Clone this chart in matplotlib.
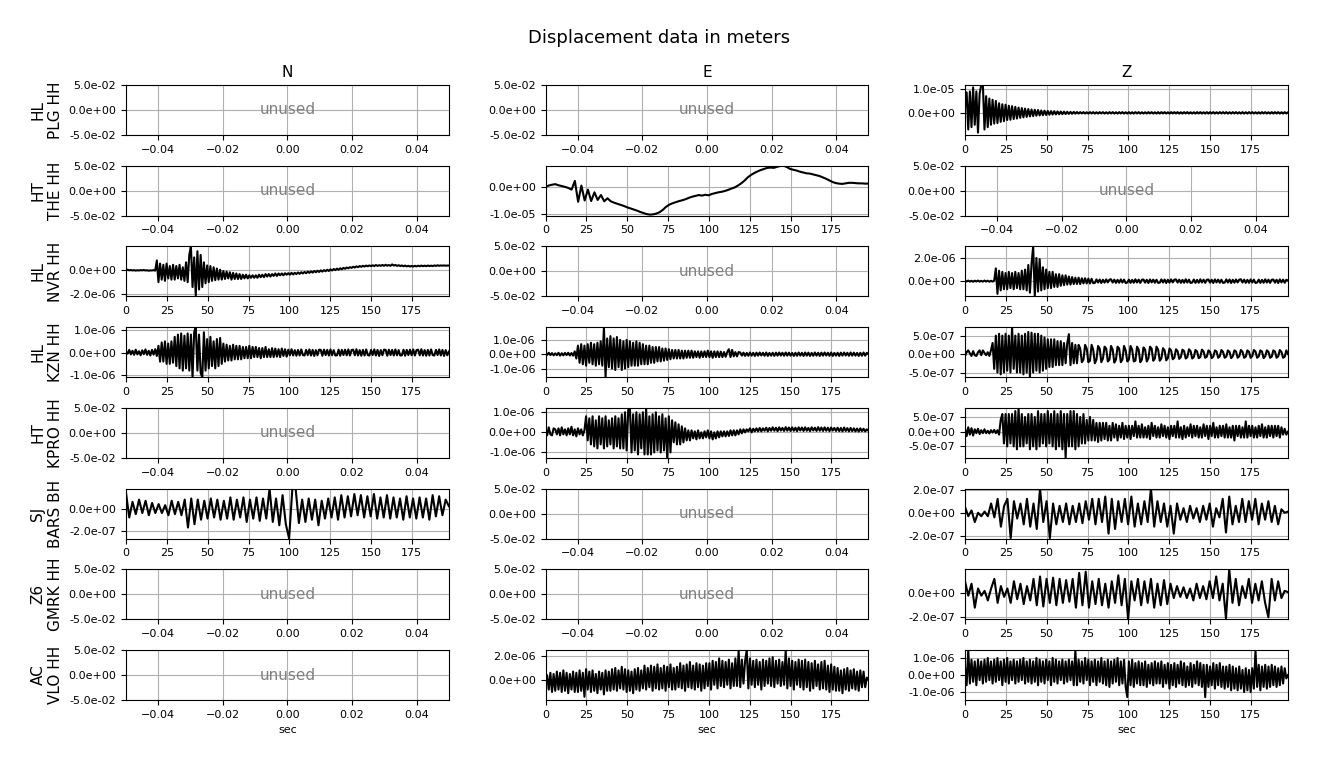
import numpy as np
import matplotlib
matplotlib.use('Agg')
import matplotlib.pyplot as plt
from matplotlib.ticker import FormatStrFormatter

# Station labels (network / station + channel prefix) and components
STATIONS = ['HL\nPLG HH', 'HT\nTHE HH', 'HL\nNVR HH', 'HL\nKZN HH',
            'HT\nKPRO HH', 'SJ\nBARS BH', 'Z6\nGMRK HH', 'AC\nVLO HH']
COMPONENTS = ['N', 'E', 'Z']
DURATION = 197.7  # sec

# Displacement traces, coarse samples
# (noisy traces ~1 s apart, calmer ones ~2 s apart)
plg_z = np.array([
    2, 8.6, -7, 9, -6, 10.7, -5, 9, -8.3, 8,
    11.7, 12, -7, 7, -6, 6, -5, 5.5, -4.5, 5,
    -4.3, 4, -3.8, 3.6, -3.5, 3.4, -3, 3, -2.9, 2.8,
    -2.6, 2.5, -2.4, 2.2, -2.1, 2, -1.9, 1.8, -1.7, 1.6,
    -1.5, 1.4, -1.4, 1.3, -1.2, 1.2, -1.1, 1, -1, 0.9,
    -0.9, 0.8, -0.8, 0.75, -0.7, 0.7, -0.65, 0.6, -0.6, 0.55,
    -0.55, 0.5, -0.5, 0.45, -0.45, 0.4, -0.4, 0.4, -0.35, 0.35,
    -0.3, 0.3, -0.25, 0.3, -0.3, 0.25, -0.3, 0.3, -0.25, 0.3,
    -0.3, 0.25, -0.3, 0.3, -0.25, 0.3, -0.3, 0.25, -0.3, 0.3,
    -0.25, 0.3, -0.3, 0.25, -0.3, 0.3, -0.25, 0.3, -0.3, 0.25,
    -0.3, 0.3, -0.3, 0.25, -0.3, 0.3, -0.25, 0.3, -0.3, 0.25,
    -0.3, 0.25, -0.3, 0.3, -0.25, 0.3, -0.3, 0.25, -0.3, 0.3,
    -0.3, 0.3, -0.25, 0.3, -0.3, 0.25, -0.3, 0.3, -0.25, 0.3,
    -0.25, 0.3, -0.3, 0.25, -0.3, 0.3, -0.25, 0.3, -0.3, 0.25,
    -0.3, 0.25, -0.3, 0.3, -0.25, 0.3, -0.3, 0.25, -0.3, 0.3,
    -0.3, 0.3, -0.25, 0.3, -0.3, 0.25, -0.3, 0.3, -0.25, 0.3,
    -0.25, 0.3, -0.3, 0.25, -0.3, 0.3, -0.25, 0.3, -0.3, 0.25,
    -0.3, 0.3, -0.3, 0.25, -0.3, 0.3, -0.25, 0.3, -0.3, 0.25,
    -0.3, 0.25, -0.3, 0.3, -0.25, 0.3, -0.3, 0.25, -0.3, 0.3,
    -0.3, 0.3, -0.25, 0.3, -0.3, 0.25, -0.3, 0.3, -0.25, 0.2]) * 1e-6

the_e = np.array([
    0, 0.5, 0.8, 1.0, 0.6, 0.3, 0, -0.4, -1, 2.2,
    -5.5, 0.5, -5.0, -1, -5.2, -2, -4.8, -3, -5.3, -4.2,
    -5.3, -5.8, -6.2, -6.6, -7.0, -7.5, -7.9, -8.3, -8.7, -9.2,
    -9.6, -10.0, -10.2, -10.1, -9.8, -9.3, -8.4, -7.3, -6.5, -6.0,
    -5.6, -5.2, -4.9, -4.5, -4.0, -3.6, -3.3, -3.0, -3.2, -2.9,
    -3.1, -2.6, -2.3, -2.0, -1.8, -1.5, -1.1, -0.6, -0.2, 0.5,
    1.3, 2.3, 3.5, 4.4, 5.1, 5.7, 6.2, 6.6, 7.0, 7.1,
    7.0, 7.4, 7.7, 7.8, 7.3, 6.6, 6.3, 6.0, 5.6, 5.3,
    5.0, 4.9, 4.6, 4.3, 4.0, 3.5, 3.0, 2.4, 1.8, 1.4,
    1.2, 1.1, 1.3, 1.5, 1.5, 1.4, 1.3, 1.3, 1.2, 1.2]) * 1e-6

nvr_n = np.array([
    -0.3, 0, -0.5, -0.2, -0.6, -0.3, -0.7, -0.4, -0.6, -0.3,
    -0.5, -0.2, -0.6, -0.4, -0.8, -0.5, -0.6, -0.3, -0.7, 7.5,
    -10, 5, -8, 4, -9, 5, -7, 3, -8, 4,
    -8, 3, -7, 4, -8, 2, -9, 6, -10, 12,
    19, -14, 10, -21, 15, -16, 12, -14, 6, -11,
    3.5, -10, 3, -9, 2, -8.5, 1, -8, 0, -8,
    -1, -7.5, -1.5, -7, -2, -8, -2.5, -7.5, -3, -7.5,
    -3.5, -7.5, -4, -7, -4, -7, -4.5, -6.5, -4.5, -6.5,
    -4.5, -6.5, -4, -6, -4, -6, -3.5, -5.5, -3.5, -5.5,
    -3.5, -5, -3, -5, -3, -4.5, -3, -4.5, -2.8, -4,
    -2.8, -4, -2.5, -3.8, -2.5, -3.5, -2.2, -3.3, -2, -3,
    -1.8, -2.8, -1.5, -2.5, -1.3, -2.3, -1, -2, -0.8, -1.8,
    -0.5, -1.5, -0.3, -1.2, 0, -1, 0.3, -0.6, 0.6, -0.3,
    0.9, 0, 1.2, 0.4, 1.5, 0.8, 1.8, 1.2, 2.1, 1.5,
    2.4, 1.8, 2.7, 2.1, 3, 2.4, 3.2, 2.6, 3.4, 2.8,
    3.5, 2.9, 3.6, 3, 3.8, 3.1, 3.7, 3.2, 3.9, 3.2,
    4, 3.3, 3.8, 3.2, 4.3, 3.4, 3.9, 3.1, 3.7, 3,
    3.5, 2.8, 3.4, 2.7, 3.2, 2.6, 3.1, 2.6, 3.2, 2.7,
    3.3, 2.8, 3.4, 2.9, 3.3, 2.9, 3.4, 3, 3.3, 3,
    3.5, 3.1, 3.6, 3.2, 3.5, 3.3, 3.5, 3.3, 3.4, 3.4]) * 1e-7

nvr_z = np.array([
    0.4, -0.3, 0.5, -0.4, 0.3, -0.5, 0.4, -0.3, 0.5, -0.4,
    0.3, -0.4, 0.5, -0.3, 0.4, -0.5, 0.3, -0.4, 0.5, 11,
    -11, 9, -8, 8, -7, 7, -7, 8, -6, 7,
    -7, 8, -6, 7, -7, 9, -7, 10, -8, 14,
    -10, 15, 30, -13, 20, -9, 19, -8, 12, -7,
    10, -6, 8, -6, 8, -5, 6, -5, 6, -4,
    5, -3.5, 5, -3, 4, -3, 3.5, -2.5, 3, -2.5,
    3, -2.5, 2.5, -2, 2.5, -2, 2.2, -2, 2, -1.8,
    -1.5, 1.5, -1.2, 1.4, -1.6, 1.2, -1.3, 1.5, -1.1, 1.3,
    1.6, -1.2, 1.3, -1.5, 1.1, -1.4, 1.5, -1.2, 1.3, -1.6,
    -1.2, 1.3, -1.5, 1.1, -1.4, 1.6, -1.2, 1.3, -1.5, 1.2,
    1.4, -1.3, 1.2, -1.6, 1.5, -1.1, 1.3, -1.4, 1.2, -1.5,
    -1.3, 1.5, -1.2, 1.4, -1.6, 1.2, -1.3, 1.5, -1.1, 1.3,
    1.5, -1.2, 1.3, -1.5, 1.1, -1.4, 1.6, -1.2, 1.3, -1.6,
    -1.2, 1.4, -1.5, 1.1, -1.4, 1.6, -1.2, 1.3, -1.5, 1.2,
    1.4, -1.3, 1.2, -1.6, 1.5, -1.1, 1.3, -1.4, 1.2, -1.5,
    -1.3, 1.5, -1.2, 1.4, -1.6, 1.2, -1.3, 1.5, -1.1, 1.3,
    1.6, -1.2, 1.3, -1.5, 1.1, -1.4, 1.5, -1.2, 1.3, -1.6,
    -1.2, 1.3, -1.5, 1.1, -1.4, 1.6, -1.2, 1.3, -1.5, 1.2,
    1.4, -1.3, 1.2, -1.6, 1.5, -1.1, 1.3, -1.4, 1.2, 0.5]) * 1e-7

kzn_n = np.array([
    0.5, -0.5, 1.2, -0.8, 0.8, -1, 1.3, -0.8, 0.6, -1.2,
    1, -0.7, 1.4, -1, 0.8, -1.3, 1.2, -0.9, 1.5, -1.5,
    3, -4, 4.5, -4, 5, -5, 4, -5, 5, -4.5,
    7, -6, 8, -7, 8.5, -8, 7.5, -7, 8.5, -8,
    8, -11, 9, 11.3, -8, 8, -9, -11, 9, -8,
    6, -7, 7, -6, 5, -7, 6, -6, 6.5, -5,
    4, -4, 3.5, -3.5, 3, -3.5, 3.5, -3, 3, -3,
    3, -3, 2.5, -2.5, 2.5, -2.5, 3, -2.5, 2.5, -2,
    2.5, -2, 2, -2.5, 2, -2, 2.5, -2, 1.5, -2,
    2, -2, 1.8, -1.8, 1.5, -2, 1.8, -1.5, 1.5, -1.8,
    1.3, -1.2, 1.5, -1.3, 1.1, -1.4, 1.2, -1.3, 1.4, -1.1,
    -1.3, 1.2, -1.1, 1.4, -1.3, 1.2, -1.5, 1.1, -1.2, 1.3,
    1.2, -1.4, 1.3, -1.1, 1.2, -1.3, 1.4, -1.2, 1.1, -1.3,
    -1.2, 1.3, -1.4, 1.2, -1.1, 1.3, -1.2, 1.4, -1.3, 1.1,
    1.3, -1.2, 1.5, -1.3, 1.1, -1.4, 1.2, -1.3, 1.4, -1.1,
    -1.3, 1.2, -1.1, 1.4, -1.3, 1.2, -1.5, 1.1, -1.2, 1.3,
    1.2, -1.4, 1.3, -1.1, 1.2, -1.3, 1.4, -1.2, 1.1, -1.3,
    -1.2, 1.3, -1.4, 1.2, -1.1, 1.3, -1.2, 1.4, -1.3, 1.1,
    1.3, -1.2, 1.5, -1.3, 1.1, -1.4, 1.2, -1.3, 1.4, -1.1,
    -1.3, 1.2, -1.1, 1.4, -1.3, 1.2, -1.5, 1.1, -1.2, 0.5]) * 1e-7

kzn_e = np.array([
    0.5, -0.5, 1, -0.6, 0.8, -0.8, 0.6, -0.7, 1, -1,
    0.7, -0.8, 0.9, -0.6, 1, -0.9, 0.8, -1, 2, -3,
    6, -6, 7, -7, 6, -8, 7, -6, 8, -7,
    7, -8, 8, -7, 9, -8, 18.9, -16, 11, -9,
    12.6, -10, 11, -11, 12, -9, 10, -11, 9, -10,
    10, -9, 9, -8, 8, -8, 9, -8, 8, -7,
    7, -7, 6, -7, 6, -6, 5, -6, 5, -5,
    5, -5, 4, -4.5, 4, -4, 3.5, -3.5, 3, -3,
    3, -3, 3, -3, 2.5, -3, 2.5, -2.5, 2.5, -2.5,
    2.5, -2.5, 2, -2, 2, -2.5, 2, -2, 2, -2,
    2.5, -2, 2, -2.5, 2, -2, 2, -2, 1.8, -2,
    1.5, -1.8, 1.5, 3.5, -2, 3, -1.5, 1.5, -1.5, 1.5,
    1.2, -1, 1.1, -1.2, 0.9, -1.1, 1.2, -1, 1, -1.2,
    1.1, -1, 1.2, -0.9, 1, -1.1, 1.2, -1.2, 0.9, -1,
    1, -1.2, 1.1, -1, 1.2, -0.9, 1, -1.1, 1.2, -1,
    1.1, -1, 0.9, -1.2, 1, -1.1, 1.2, -1, 1, -1.2,
    1.2, -1, 1.1, -1.2, 0.9, -1.1, 1.2, -1, 1, -1.2,
    1.1, -1, 1.2, -0.9, 1, -1.1, 1.2, -1.2, 0.9, -1,
    1, -1.2, 1.1, -1, 1.2, -0.9, 1, -1.1, 1.2, -1,
    1.1, -1, 0.9, -1.2, 1, -1.1, 1.2, -1, 1, 0]) * 1e-7

kzn_z = np.array([
    -0.5, 0.5, 1, 0.2, -0.5, 0.8, -0.3, -0.5, 0.5, 1,
    -0.3, 1, 0.3, -0.3, 0.5, -0.5, 1, 3, -4, 5,
    -5, 5.5, -5.5, 5, -5, 5.5, -4.5, 5, -5, 7.3,
    -4, 5, -5, 5.5, -5, 5, -5.5, 5.5, -5, 6,
    -6.25, 5.8, -5, 5.5, -4.5, 5.5, -5, 5, -4.5, 4.5,
    -4, 4, -3.5, 4, -3.5, 4, -3, 3.5, -3, 3.5,
    -3, 3, -2.5, 3, 5.4, -3, 3, -2.5, 2.5, -2.5,
    2.5, 1.5, -2.2, -1.5, 2.5, 1.5, -2.2, -1.8, 2.5, 1.2,
    -2.5, -1.5, 2.2, 1.5, -2.2, -1.2, 2, 1.5, -2, -1.5,
    2.2, 1.2, -2.3, -1.5, 2, 1.5, -2.2, -1.5, 2.2, 1,
    -2, -1.5, 2.2, 1.2, -2, -1.8, 2, 1.2, -2.2, -1.5,
    1.8, 1.2, -2, -1.2, 2, 1.5, -1.8, -1.2, 2, 1.2,
    -1.8, -1.2, 1.6, 1, -1.7, -1.1, 1.5, 1, -1.4, -1,
    1.3, 0.8, -1.3, -0.8, 1.2, 0.8, -1.2, -0.8, 1.3, 0.8,
    -1.2, -0.8, 1.1, 0.7, -1.1, -0.8, 1.2, 0.7, -1, -0.7,
    1, 0.6, -1.1, -0.7, 1, 0.7, -1, -0.6, 1.1, 0.6,
    -1, -0.7, 1, 0.6, -1.1, -0.6, 1, 0.7, -1, -0.6,
    1.1, 0.6, -1, -0.7, 1, 0.6, -1, -0.6, 1.1, 0.7,
    -1, -0.6, 1, 0.7, -1.1, -0.6, 1, 0.6, -1, -0.7,
    1, 0.7, -1, -0.6, 1.1, 0.6, -1, -0.7, 1, 0]) * 1e-7

kpro_e = np.array([
    1, -1.5, 2.5, -1, -1.5, 2, 1.5, -1, 2, -1.5,
    2.5, -1, 1.5, -1.5, 2, -1, 2.8, -1.5, 1.5, -2,
    2, -1, 1.5, -1.5, 1, 8, -4, 7, -6, 8,
    -7, 6, -8, 8, -6, 7, -8, 8, -7, 6,
    -6, 7, -8, 8, -7, 7, -8, 9, -8, 10,
    -9, 11, 12.2, -10, 9, -9, 10, -11, 9, -8,
    10, -11, 12.2, -11, 8, -11, 9, -10, 10, -9,
    8, -10, 9, -9, 7, -12.7, 8, -10, 6, -5,
    5, -6, 4, -6, 3, -5, 2, -4, 1, -4,
    1, -3, 0.5, -3.5, 1, -3, 0, -3, 0.5, -2.5,
    1, -3, 0.5, -3.5, 0, -3, 0.5, -2.5, 0.5, -2,
    0.5, -2, 0.5, -1.8, 1, -1.5, 1, -1.5, 1, -1,
    1.5, -0.5, 1.5, 0, 1.5, 0.5, 2, 0, 1.8, 0.5,
    2, 0.5, 2.2, 0.5, 2, 0.8, 2.3, 0.5, 2.2, 0.8,
    2.5, 0.8, 2.3, 0.6, 2.5, 0.9, 2.2, 0.7, 2.6, 0.8,
    2.4, 0.7, 2.5, 0.8, 2.3, 0.6, 2.5, 0.9, 2.4, 0.7,
    2.5, 0.8, 2.2, 0.6, 2.5, 0.9, 2.3, 0.7, 2.6, 0.8,
    2.4, 0.7, 2.5, 0.8, 2.3, 0.6, 2.4, 0.9, 2.2, 0.7,
    2.3, 0.6, 2.2, 0.5, 2.4, 0.7, 2.1, 0.5, 2.2, 0.6,
    2, 0.5, 1.9, 0.4, 2, 0.6, 1.8, 0.5, 1.5, 0.8]) * 1e-7

kpro_z = np.array([
    1, -1.5, 1.5, -1, 1.2, -1.3, 0.8, -0.5, 1, -0.8,
    0.5, -0.5, 0.8, -0.5, 0.3, -0.6, 0.5, -0.3, 0.6, -0.5,
    0.5, -1, 4, 6, -4, 6, -5, 6, -4, 6,
    -5, 7, -6, 8.1, -5, 6, -5, 5, -4, 6,
    -6, 6, -5, 5, -6, 7, -5, 6, -4, 6,
    -5, 7, -4, 6, -5, 7, -6, 6, -5, 7,
    -6, 6, -8.9, 6, -5, 7, -5, 7, -6, 6,
    -5, 5, -4, 6, -4, 4, -3, 5, -3, 4,
    -3, 3, -3.5, 3, -3, 3, -2.5, 3, -3, 2,
    -3, 3, -2, 2.5, -3, 2, -2, 3, -2.5, 2,
    -2, 2, -2.5, 2, -1.5, 3.5, -2, 2, -2, 2.5,
    -2, 1.5, -2, 2, -2.5, 3, -1.5, 2, -2, 1.5,
    -2, 2.5, -1.5, 2, -2, 1.5, -2.5, 2, -1.5, 2,
    -2, 3.5, -2, 1.5, -2.5, 2, -2, 1.5, -1.5, 2.5,
    -2, 2, -1.5, 2, -2, 1.5, -2, 2.5, -1.5, 2,
    -2.5, 2, -1.5, 3, -2, 1.5, -2, 2, -1.5, 2,
    -2, 2.5, -2, 1.5, -2, 2, -3, 2, -1.5, 2,
    -2, 1.5, -2, 3.5, -2, 2, -1.5, 2, -2, 1.5,
    -2, 2, -1.5, 2.5, -2, 1.5, -2, 2, -1.5, 2,
    -2, 2, -1.5, 2, -2, 1.5, -1, 1, -1, 0]) * 1e-7

bars_n = np.array([
    14, -8, 6, -5, 8, -4, 7, -6, 5, -4,
    4, -4, 3, -6, 7, -5, 6, -6, 8, -17,
    9, -14, 8, -10, 7, -9, 9, -8, 8, -10,
    7, -9, 10, -10, 8, -8, 10, -12, 8, -9,
    10, -11, 9, -9, 17.9, -12, 9, -15, 12, -14,
    -26.9, 17.9, 17.9, -13, 8, -12, 9, -10, 8, -15,
    7, -9, 9, -8, 10, -10, 12, -8, 11, -7,
    13, -6, 12, -8, 11, -7, 13, -9, 10, -8,
    12, -9, 10, -8, 9, -10, 11, -8, 9, -9,
    10, -8, 9, -10, 12, -7, 11, -6, 8, 2]) * 1e-8

bars_z = np.array([
    5, -3, 2, -8, 0, -3, 1, -3, 8, -4,
    12, -12, 6, 12, -22, 10, -5, 8, -10, 12,
    -12, 8, -14, 20.9, -8, 10, -22, 8, -10, 6,
    -8, 8, -10, 6, -8, 8, -9, 10, -6, 12,
    -10, 12, -8, 14, -18, 12, -14, 10, -8, 12,
    -10, 14, -12, 8, -10, 10, -8, 20.9, -12, 10,
    -8, 8, -12, 6, -18, 8, -6, 4, -8, 6,
    -5, 4, -8, 6, -6, 8, -12, 4, -4, 12,
    -17, 14, -10, 6, -8, 12, -8, 10, -6, 12,
    -10, 8, -6, 10, -8, 6, -10, 3, 0, 1]) * 1e-8

gmrk_z = np.array([
    10, -2, 8, -12, 4, -2, 2, -6, 4, 12,
    -8, 6, -3, 4, -8, 10, -5, 8, -9, 6,
    -6, 12, -10, 14, -11, 12, -8, 13, -10, 12,
    -8, 11, -7, 12, -12, 17, -10, 18, -12, 10,
    -9, 12, -10, 8, -12, 10, -8, 15, -10, 12,
    -21.7, 10, -6, 12, -10, 10, -8, 12, -12, 8,
    -10, 11, -9, 8, -4, 6, -3, 5, -4, 4,
    -6, 8, -4, 6, -5, 10, -4, 14, -6, 8,
    -21, 20, -8, 12, -10, 6, -4, 12, -8, 8,
    -6, 10, -8, -20, 12, -6, 10, -4, 2, 1]) * 1e-8

vlo_e = np.array([
    -3, 4, -8, 6, -10, 5, -9, 7, -8, 6,
    -10, 8, -9, 6, -11, 5, -8, 7, -10, 6,
    -10, 8, -9, 6, -14, 9, -8, 7, -10, 8,
    -9, 5, -11, 7, -8, 6, -12, 8, -9, 7,
    -9, 9, -8, 10, -9, 8, -7, 11, -8, 9,
    -10, 8, -9, 7, -11, 9, -8, 10, -9, 8,
    -7, 12, -8, 10, -6, 12, -9, 11, -7, 13,
    -8, 10, -7, 12, -9, 11, -6, 13, -8, 10,
    -8, 11, -6, 14, -7, 12, -9, 13, -6, 15,
    -7, 12, -8, 14, -6, 13, -9, 12, -7, 14,
    -5, 14, -8, 16, -4, 15, -7, 18, -5, 16,
    -6, 15, -4, 17, -7, 14, -5, 18, -5, 25,
    -6, 17, -3, 16, 25, -7, 18, -4, 16, -6,
    17, -4, 15, -8, 17, -5, 16, -3, 18, -5,
    19, -6, 16, -3, 17, -5, 15, -4, 25, -7,
    18, -5, 16, -8, 15, -4, 17, -6, 16, -8,
    17, -6, 15, -9, 14, -7, 16, -5, 13, -8,
    15, -7, 16, -8, 12, -10, 13, -8, 11, -9,
    10, -9, 8, -11, 9, -8, 10, -9, 8, -7,
    9, -8, 7, -9, 8, -6, 7, -6, 2, 0]) * 1e-7

vlo_z = np.array([
    5, -6, 14.7, -5, 9, -4, 8, -6, 9, -3,
    8, -5, 9, -4, 10, -3, 8, -5, 9, -4,
    10, -3, 8, -6, 9, -4, 10, -5, 8, -3,
    9, -5, 8, -4, 9, -3, 10, -5, 8, -4,
    9, -5, 8, -4, 10, -6, 9, -4, 8, -5,
    9, -3, 8, -6, 10, -4, 9, -5, 8, -3,
    9, -5, 8, -4, 9, -3, 8, -6, 14.7, -6,
    9, -4, 8, -5, 10, -3, 9, -6, 8, -4,
    9, -6, 8, -4, 10, -5, 8, -6, 9, -7,
    8, -5, 9, -4, 10, -6, 8, -5, 9, -7,
    -13, 8, -6, 9, -7, 7, -5, 8, -6, 7,
    -6, 8, -7, 6, -5, 7, -6, 8, -5, 7,
    -5, 8, -7, 6, -5, 7, -8, 6, -6, 7,
    -7, 6, -5, 8, -6, 7, -7, 5, -6, 7,
    -7, 6, -5, 8, -6, 7, -7, 6, -13, 6,
    -7, 5, -6, 7, -8, 6, -6, 7, -7, 5,
    -8, 5, -7, 6, -9, 5, -8, 4, -9, 5,
    -8, 3, -10, 4, -9, 3, -10, 4, -8, 14.7,
    -7, 6, -9, 5, -7, 6, -8, 5, -7, 6,
    -6, 5, -7, 4, -6, 5, -5, 4, -2, 0]) * 1e-7

# which panel (row, col) holds which trace
traces = {
    (0, 2): plg_z, (1, 1): the_e, (2, 0): nvr_n, (2, 2): nvr_z,
    (3, 0): kzn_n, (3, 1): kzn_e, (3, 2): kzn_z,
    (4, 1): kpro_e, (4, 2): kpro_z, (5, 0): bars_n, (5, 2): bars_z,
    (6, 2): gmrk_z, (7, 1): vlo_e, (7, 2): vlo_z,
}

# y-limits and ticks for each data panel
yaxis = {
    (0, 2): ((-0.93e-5, 1.17e-5), [0, 1e-5]),
    (1, 1): ((-1.06e-5, 0.78e-5), [-1e-5, 0]),
    (2, 0): ((-2.16e-6, 1.89e-6), [-2e-6, 0]),
    (2, 2): ((-1.32e-6, 3.0e-6), [0, 2e-6]),
    (3, 0): ((-1.09e-6, 1.13e-6), [-1e-6, 0, 1e-6]),
    (3, 1): ((-1.6e-6, 1.89e-6), [-1e-6, 0, 1e-6]),
    (3, 2): ((-6.25e-7, 7.3e-7), [-5e-7, 0, 5e-7]),
    (4, 1): ((-1.27e-6, 1.22e-6), [-1e-6, 0, 1e-6]),
    (4, 2): ((-8.9e-7, 8.1e-7), [-5e-7, 0, 5e-7]),
    (5, 0): ((-2.69e-7, 1.79e-7), [-2e-7, 0]),
    (5, 2): ((-2.23e-7, 2.09e-7), [-2e-7, 0, 2e-7]),
    (6, 2): ((-2.17e-7, 2.0e-7), [-2e-7, 0]),
    (7, 1): ((-1.67e-6, 2.5e-6), [0, 2e-6]),
    (7, 2): ((-1.47e-6, 1.47e-6), [-1e-6, 0, 1e-6]),
}

fig, axes = plt.subplots(8, 3, figsize=(13.18, 7.69),
                         gridspec_kw=dict(left=0.0956, right=0.9772,
                                          top=0.8895, bottom=0.0897,
                                          hspace=0.614, wspace=0.299))

for r in range(8):
    for c in range(3):
        ax = axes[r, c]
        if (r, c) in traces:
            y = traces[(r, c)]
            t = np.linspace(0, DURATION, len(y))
            ax.plot(t, y, 'k', lw=1.5)
            ax.set_xlim(0, DURATION)
            ax.set_xticks(np.arange(0, 176, 25))
            lim, ticks = yaxis[(r, c)]
            ax.set_ylim(lim)
            ax.set_yticks(ticks)
        else:
            ax.set_xlim(-0.05, 0.05)
            ax.set_ylim(-0.05, 0.05)
            ax.set_xticks([-0.04, -0.02, 0, 0.02, 0.04])
            ax.set_yticks([-0.05, 0, 0.05])
            ax.text(0, 0, 'unused', ha='center', va='center',
                    color='gray', fontsize=11)
        ax.yaxis.set_major_formatter(FormatStrFormatter('%.1e'))
        ax.tick_params(labelsize=8)
        ax.grid(True)
        if r == 0:
            ax.set_title(COMPONENTS[c], fontsize=11)
        if c == 0:
            ax.set_ylabel(STATIONS[r], fontsize=11)
        if r == 7:
            ax.set_xlabel('sec', fontsize=8)

fig.suptitle('Displacement data in meters', fontsize=13, y=0.962)
fig.savefig('out.png', dpi=100)
